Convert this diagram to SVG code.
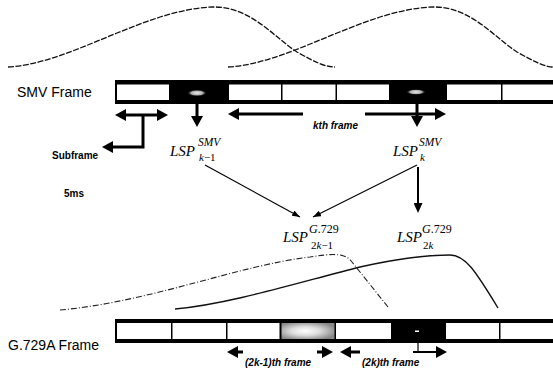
<svg xmlns="http://www.w3.org/2000/svg" width="553" height="372" viewBox="0 0 553 372">
<style>
.win{fill:none;stroke:#111;stroke-width:1.3;stroke-dasharray:6 1.5}
.win2{fill:none;stroke:#222;stroke-width:1.1;stroke-dasharray:6 2 1 2}
.sol{fill:none;stroke:#111;stroke-width:1.4}
.bar{fill:#000}
.cell{fill:#fff}
.thick{fill:none;stroke:#000;stroke-width:3}
.med{fill:none;stroke:#000;stroke-width:2}
.thin{fill:none;stroke:#000;stroke-width:1.2}
.lbl{font-family:"Liberation Sans",Arial,sans-serif;font-size:14px;fill:#000}
.sm{font-family:"Liberation Sans",Arial,sans-serif;font-size:10px;font-weight:bold;fill:#000}
.it{font-style:italic}
.math{font-family:"Liberation Serif","Times New Roman",serif;font-style:italic;fill:#000}
.up{font-style:normal}
</style>
<defs>
<marker id="big" markerUnits="userSpaceOnUse" markerWidth="11" markerHeight="12" viewBox="0 0 11 12" refX="0" refY="6" orient="auto-start-reverse"><path d="M0,0 L11,6 L0,12 z" fill="#000"/></marker>
<marker id="mid" markerUnits="userSpaceOnUse" markerWidth="10" markerHeight="9" viewBox="0 0 10 9" refX="0" refY="4.5" orient="auto"><path d="M0,0 L10,4.5 L0,9 z" fill="#000"/></marker>
<marker id="small" markerUnits="userSpaceOnUse" markerWidth="8" markerHeight="6" viewBox="0 0 8 6" refX="8" refY="3" orient="auto"><path d="M0,0 L8,3 L0,6 z" fill="#000"/></marker>
<radialGradient id="blob" cx="0.5" cy="0.5" r="0.5">
<stop offset="0" stop-color="#eee"/><stop offset="0.6" stop-color="#aaa"/><stop offset="1" stop-color="#000" stop-opacity="0"/>
</radialGradient>
<radialGradient id="grayc" cx="0.45" cy="0.5" r="0.6">
<stop offset="0" stop-color="#fff"/><stop offset="0.45" stop-color="#ddd"/><stop offset="1" stop-color="#888"/>
</radialGradient>
</defs>

<g id="smv-windows">
<path class="win" d="M8,67 C70,64 145,9 213,7 C250,6 275,38 297,52 C315,62 325,67 335,67"/>
<path class="win" d="M228,67 C290,64 365,9 433,7 C470,6 495,38 517,52 C535,62 545,67 553,67"/>
</g>

<g id="smv-frame">
<text class="lbl" x="17" y="97">SMV Frame</text>
<rect class="bar" x="115" y="80" width="440" height="24"/>
<rect class="cell" x="117" y="84.5" width="52" height="15.5"/>
<ellipse cx="197" cy="93" rx="10" ry="3.5" fill="url(#blob)"/>
<rect class="cell" x="229" y="84.5" width="52" height="15.5"/>
<rect class="cell" x="282.5" y="84.5" width="53" height="15.5"/>
<rect class="cell" x="337" y="84.5" width="52" height="15.5"/>
<ellipse cx="416" cy="92" rx="10" ry="3" fill="url(#blob)"/>
<rect class="cell" x="447" y="84.5" width="54" height="15.5"/>
<rect class="cell" x="502.5" y="84.5" width="52" height="15.5"/>
</g>

<g id="g729-windows">
<path class="win2" d="M60,310 C150,302 240,265 310,257 C330,254 345,252 352,262 L388,307"/>
<path class="sol" d="M175,309 C230,304 300,282 360,267 C400,258 430,255 450,255 C465,255 475,270 498,308"/>
</g>

<g id="g729-frame">
<text class="lbl" x="8" y="350">G.729A Frame</text>
<rect class="bar" x="115" y="319" width="440" height="24"/>
<rect class="cell" x="117" y="323" width="54" height="16"/>
<rect class="cell" x="172.5" y="323" width="53.5" height="16"/>
<rect class="cell" x="227.5" y="323" width="52" height="16"/>
<rect x="281.5" y="323" width="53" height="16" fill="url(#grayc)"/>
<rect class="cell" x="336" y="323" width="55" height="16"/>
<rect x="415" y="330.5" width="4" height="1.5" fill="#fff"/>
<rect class="cell" x="446" y="323" width="53" height="16"/>
<rect class="cell" x="500.5" y="323" width="54" height="16"/>
</g>

<g id="lsp-k-1">
<text class="math" x="170" y="156" font-size="15">LSP</text>
<text class="math" x="198" y="146" font-size="11.5">SMV</text>
<text class="math" x="199" y="161" font-size="11">k<tspan class="up">−1</tspan></text>
</g>
<g id="lsp-k">
<text class="math" x="393" y="156" font-size="15">LSP</text>
<text class="math" x="419" y="146" font-size="11.5">SMV</text>
<text class="math" x="420" y="161" font-size="11">k</text>
</g>
<g id="lsp-2k-1">
<text class="math" x="283" y="242" font-size="15">LSP</text>
<text class="math" x="309" y="233" font-size="12">G<tspan class="up">.729</tspan></text>
<text class="math" x="311" y="249" font-size="11"><tspan class="up">2</tspan>k<tspan class="up">−1</tspan></text>
</g>
<g id="lsp-2k">
<text class="math" x="397" y="242" font-size="15">LSP</text>
<text class="math" x="422" y="233" font-size="12">G<tspan class="up">.729</tspan></text>
<text class="math" x="423" y="249" font-size="11"><tspan class="up">2</tspan>k</text>
</g>

<g id="labels">
<text class="sm" x="52" y="159">Subframe</text>
<text class="sm" x="64" y="197">5ms</text>
<text class="sm it" x="313" y="129">kth frame</text>
<text class="sm it" x="245" y="366">(2k-1)th frame</text>
<text class="sm it" x="362" y="366">(2k)th frame</text>
</g>

<g id="connectors">
<path class="thick" d="M126,115 H157" marker-start="url(#big)" marker-end="url(#big)"/>
<path class="thick" d="M143,115 V147 H113" marker-end="url(#big)"/>
<path class="thick" d="M197,104 V116" marker-end="url(#big)"/>
<path class="thick" d="M417,104 V116" marker-end="url(#big)"/>
<path class="thick" d="M303,114 H239" marker-end="url(#big)"/>
<path class="thick" d="M365,114 H435" marker-end="url(#big)"/>
<path class="med" d="M418,167 V203" marker-end="url(#mid)"/>
<path class="thin" d="M205,165 L300,217" marker-end="url(#small)"/>
<path class="thin" d="M417,165 L313,217" marker-end="url(#small)"/>
<path class="thick" d="M243,352 H238" marker-end="url(#big)"/>
<path class="thick" d="M317,352 H322" marker-end="url(#big)"/>
<path class="thick" d="M360,352 H351" marker-end="url(#big)"/>
<path class="med" d="M413,352 H436" marker-end="url(#big)"/>
<path class="thin" d="M418,343 V352"/>
</g>
</svg>
